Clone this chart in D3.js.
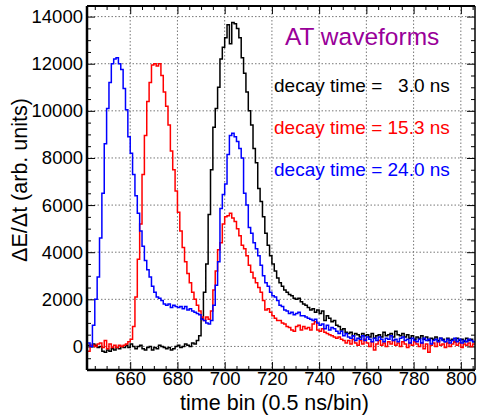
<!DOCTYPE html>
<html>
<head>
<meta charset="utf-8">
<script src="https://cdn.jsdelivr.net/npm/d3@7"></script>
<style>
  body { margin: 0; background: #fff; }
  svg { font-family: "Liberation Sans", Arial, sans-serif; }
  .grid line { stroke: #777; stroke-width: 1; stroke-dasharray: 1.5,2; }
  .ax path { display: none; }
  .ax line { stroke: #000; stroke-width: 1; }
  .ax text { font-size: 18.5px; fill: #000; }
</style>
</head>
<body>
<div id="chart"></div>
<script>
// first bin of the histograms (bin width = 1 time bin)
var firstBin = 642;

// decay time = 3.0 ns
var black = [
  50, 0, 100, 50, -50, 0, -200, -250, -150, -200,
  -100, -150, -50, -100, 0, -50, 50, -50, 100, 0,
  -100, 0, 50, -100, -150, -50, 0, -150, -50, -100,
  50, 0, -50, -100, -50, -150, -100, 0, 50, -50,
  0, 100, 50, 0, 150, 100, 250, 450, 1200, 2300,
  3500, 5600, 7500, 9300, 10100, 11000, 12200, 12700, 13100, 13650,
  12850, 13750, 13700, 13500, 13100, 12250, 11600, 10800, 10000, 9400,
  8400, 7800, 6700, 6150, 5500, 4800, 4300, 3850, 3500, 3200,
  2900, 2700, 2550, 2400, 2300, 2200, 2150, 2050, 2000, 2050,
  1900, 1800, 1750, 1650, 1550, 1600, 1450, 1550, 1400, 1500,
  1100, 1300, 1200, 1050, 1100, 900, 850, 700, 750, 600,
  550, 600, 450, 550, 500, 400, 550, 450, 500, 400,
  550, 350, 450, 500, 400, 600, 450, 500, 550, 400,
  650, 500, 450, 550, 400, 500, 350, 450, 300, 400,
  350, 450, 300, 400, 250, 350, 300, 400, 250, 350,
  300, 200, 350, 250, 300, 200, 350, 250, 300, 200,
  350, 250, 300, 200
];

// decay time = 15.3 ns
var red = [
  -200, 50, 50, 0, 100, 150, -50, 250, -100, 100,
  -50, 50, -50, 50, 0, 50, 100, 200, 300, 850,
  2100, 3700, 5200, 7300, 8950, 10400, 11200, 11950, 12000, 11900,
  12000, 11500, 10800, 10200, 9400, 8300, 7500, 6600, 5700, 4900,
  4200, 3600, 3100, 2700, 2300, 2000, 1750, 1500, 1250, 1100,
  1250, 1150, 1500, 2400, 3200, 4100, 4400, 5200, 5500, 5550,
  5650, 5450, 5300, 5000, 4700, 4300, 4150, 3850, 3450, 3150,
  2900, 2700, 2500, 2300, 1950, 1550, 1600, 1450, 1300, 1200,
  1100, 1100, 1000, 950, 850, 800, 700, 650, 850, 900,
  700, 850, 750, 800, 700, 950, 1050, 700, 650, 750,
  600, 550, 500, 450, 400, 350, 400, 300, 250, 150,
  250, 100, 300, 150, 50, 250, 100, 300, 150, 0,
  200, -150, 100, 250, 50, 150, 0, 200, 100, 250,
  50, 150, 0, 200, 100, -50, 150, 50, 200, 100,
  0, 150, -100, 100, -250, 50, 150, 0, 200, 50,
  100, -50, 150, 0, 100, 200, 50, 150, -50, 100,
  50, 150, 0, 100
];

// decay time = 24.0 ns
var blue = [
  150, 0, 900, 2000, 2950, 4600, 6500, 8600, 10100, 11200,
  12000, 12200, 12250, 12000, 11750, 10950, 10050, 8900, 8200, 7300,
  6400, 5650, 4900, 4250, 3650, 3250, 2950, 2550, 2300, 2100,
  2050, 1950, 1800, 1750, 1800, 1650, 1750, 1700, 1650, 1700,
  1600, 1700, 1550, 1600, 1500, 1450, 1400, 1350, 1150, 1100,
  1000, 950, 1100, 1750, 2600, 3600, 5850, 6450, 6900, 8150,
  8950, 9050, 8900, 8700, 8400, 8000, 6500, 6000, 5050, 4800,
  4400, 4150, 3850, 3450, 3000, 2700, 2550, 2300, 2150, 2100,
  1950, 1750, 1700, 1550, 1500, 1400, 1450, 1350, 1400, 1450,
  1300, 1300, 1250, 1200, 1150, 1100, 1150, 1000, 900, 950,
  750, 900, 700, 800, 750, 650, 550, 650, 450, 550,
  400, 350, 450, 250, 350, 300, 450, 250, 400, 300,
  200, 350, 250, 400, 300, 200, 350, 300, 450, 250,
  300, 200, 350, 400, 250, 300, 150, 350, 250, 200,
  300, 150, 350, 250, 300, 100, 250, 300, 200, 350,
  250, 200, 300, 150, 250, 350, 200, 300, 150, 250,
  200, 300, 250, 200
];

var xTicks = [660, 680, 700, 720, 740, 760, 780, 800];
var yTicks = [0, 2000, 4000, 6000, 8000, 10000, 12000, 14000];

var legend = [
  {label: "decay time =   3.0 ns", color: "#000000", data: black},
  {label: "decay time = 15.3 ns", color: "#ff0000", data: red},
  {label: "decay time = 24.0 ns", color: "#0000ff", data: blue}
];

// set the dimensions and margins of the graph
var margin = {top: 6, right: 3, bottom: 46, left: 87},
    width = 478 - margin.left - margin.right,
    height = 416 - margin.top - margin.bottom;

var svgRoot = d3.select("#chart")
  .append("svg")
    .attr("width", 478)
    .attr("height", 416);

var svg = svgRoot.append("g")
    .attr("transform", "translate(" + margin.left + "," + margin.top + ")");

var x = d3.scaleLinear().domain([641.7, 806]).range([0, width]);
var y = d3.scaleLinear().domain([-1000, 14450]).range([height, 0]);

// grid
svg.append("g").attr("class", "grid")
  .selectAll("line").data(xTicks).enter().append("line")
    .attr("x1", function (d) { return x(d); })
    .attr("x2", function (d) { return x(d); })
    .attr("y1", 0).attr("y2", height);
svg.append("g").attr("class", "grid")
  .selectAll("line").data(yTicks).enter().append("line")
    .attr("y1", function (d) { return y(d); })
    .attr("y2", function (d) { return y(d); })
    .attr("x1", 0).attr("x2", width);

// minor tick positions
var xMinor = d3.range(645, 806, 5).filter(function (d) { return d % 20 !== 0; });
var yMinor = d3.range(-500, 14451, 500).filter(function (d) { return d % 2000 !== 0; });

// bottom axis
svg.append("g").attr("class", "ax")
  .attr("transform", "translate(0," + height + ")")
  .call(d3.axisBottom(x).tickValues(xTicks).tickSizeInner(-8).tickSizeOuter(0).tickPadding(2).tickFormat(d3.format("d")));
svg.append("g").attr("class", "ax")
  .attr("transform", "translate(0," + height + ")")
  .call(d3.axisBottom(x).tickValues(xMinor).tickSizeInner(-4).tickSizeOuter(0).tickFormat(""));
// top axis
svg.append("g").attr("class", "ax")
  .call(d3.axisTop(x).tickValues(xTicks).tickSizeInner(-8).tickSizeOuter(0).tickFormat(""));
svg.append("g").attr("class", "ax")
  .call(d3.axisTop(x).tickValues(xMinor).tickSizeInner(-4).tickSizeOuter(0).tickFormat(""));
// left axis
svg.append("g").attr("class", "ax")
  .call(d3.axisLeft(y).tickValues(yTicks).tickSizeInner(-8).tickSizeOuter(0).tickPadding(4).tickFormat(d3.format("d")));
svg.append("g").attr("class", "ax")
  .call(d3.axisLeft(y).tickValues(yMinor).tickSizeInner(-4).tickSizeOuter(0).tickFormat(""));
// right axis
svg.append("g").attr("class", "ax")
  .attr("transform", "translate(" + width + ",0)")
  .call(d3.axisRight(y).tickValues(yTicks).tickSizeInner(-8).tickSizeOuter(0).tickFormat(""));
svg.append("g").attr("class", "ax")
  .attr("transform", "translate(" + width + ",0)")
  .call(d3.axisRight(y).tickValues(yMinor).tickSizeInner(-4).tickSizeOuter(0).tickFormat(""));

// histograms
svg.append("clipPath").attr("id", "clip")
  .append("rect").attr("width", width).attr("height", height);

var line = d3.line()
  .x(function (d) { return x(d[0]); })
  .y(function (d) { return y(d[1]); })
  .curve(d3.curveStepAfter);

svg.append("g").attr("clip-path", "url(#clip)")
  .selectAll("path").data(legend).enter().append("path")
    .attr("fill", "none")
    .attr("stroke", function (d) { return d.color; })
    .attr("stroke-width", 1.5)
    .attr("d", function (d) {
      var pts = d.data.map(function (v, i) { return [firstBin + i, v]; });
      pts.push([firstBin + d.data.length, d.data[d.data.length - 1]]);
      return line(pts);
    });

// frame
svg.append("line").attr("x1", 0).attr("x2", width).attr("y1", 0).attr("y2", 0)
  .attr("stroke", "#000").attr("stroke-width", 2);
svg.append("line").attr("x1", width).attr("x2", width).attr("y1", 0).attr("y2", height)
  .attr("stroke", "#000").attr("stroke-width", 1.5);
svg.append("line").attr("x1", 0).attr("x2", width).attr("y1", height).attr("y2", height)
  .attr("stroke", "#000").attr("stroke-width", 2.5);
svg.append("line").attr("x1", 0).attr("x2", 0).attr("y1", 0).attr("y2", height)
  .attr("stroke", "#000").attr("stroke-width", 2.5);

// axis titles
svgRoot.append("text")
  .attr("x", 274.5).attr("y", 409.5)
  .attr("text-anchor", "middle")
  .style("font-size", "21.5px")
  .text("time bin (0.5 ns/bin)");
svgRoot.append("text")
  .attr("transform", "translate(27,180) rotate(-90)")
  .attr("text-anchor", "middle")
  .style("font-size", "21.5px")
  .text("ΔE/Δt (arb. units)");

// labels
svgRoot.append("text")
  .attr("x", 285).attr("y", 45)
  .style("font-size", "24.5px")
  .style("fill", "#990099")
  .text("AT waveforms");

svgRoot.selectAll("text.leg").data(legend).enter().append("text")
  .attr("class", "leg")
  .attr("x", 274)
  .attr("y", function (d, i) { return 92 + i * 42; })
  .style("font-size", "19px")
  .style("white-space", "pre")
  .style("fill", function (d) { return d.color; })
  .text(function (d) { return d.label; });
</script>
</body>
</html>
